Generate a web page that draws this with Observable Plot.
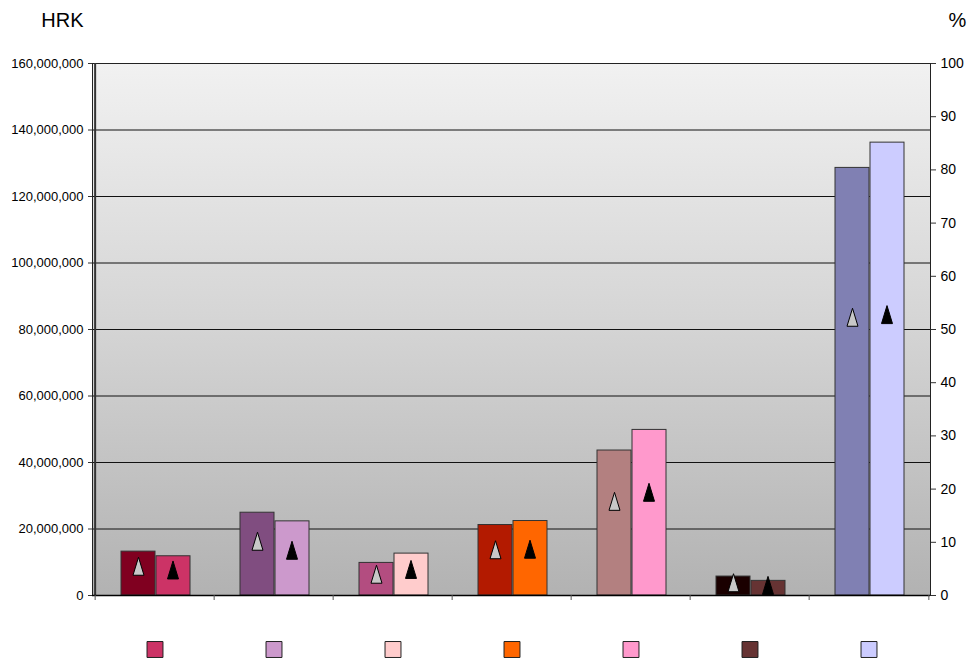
<!DOCTYPE html>
<html>
<head>
<meta charset="utf-8">
<script src="https://cdn.jsdelivr.net/npm/d3@7"></script>
<script src="https://cdn.jsdelivr.net/npm/@observablehq/plot@0.6"></script>
<style>
  html, body { margin: 0; padding: 0; background: #fff; }
  #chart svg { display: block; }
</style>
</head>
<body>
<div id="chart"></div>
<script>
// ---- data ----
const groups = ["G1", "G2", "G3", "G4", "G5", "G6", "G7"];
const hrkA = [13.2e6, 24.9e6, 9.8e6, 21.2e6, 43.6e6, 5.7e6, 128.6e6];
const hrkB = [11.8e6, 22.3e6, 12.6e6, 22.4e6, 49.8e6, 4.4e6, 136.2e6];
const pctA = [5.5, 10.2, 4.0, 8.6, 17.7, 2.4, 52.3];
const pctB = [4.8, 8.5, 4.9, 8.7, 19.4, 1.9, 52.8];
const colorsA = ["#800020", "#804D80", "#B34D80", "#B31A00", "#B38080", "#1A0000", "#8080B3"];
const colorsB = ["#CC3366", "#CC99CC", "#FFCCCC", "#FF6600", "#FF99CC", "#663333", "#CCCCFF"];
const hrkTicks = d3.range(0, 160000001, 20000000);
const pctTicks = d3.range(0, 101, 10);
const hrkMax = 160e6, pctMax = 100;

const rows = groups.map((g, i) => ({
  group: g, a: hrkA[i], b: hrkB[i], pa: pctA[i], pb: pctB[i], ca: colorsA[i], cb: colorsB[i]
}));
const pctToY = p => p * hrkMax / pctMax;

const W = 970, H = 659, mL = 92, mR = 40, mT = 63, mB = 64;
const bw = (W - mL - mR) / groups.length;

// tall triangle marker (Excel-like)
const tallTriangle = {
  draw(context, size) {
    const r = Math.sqrt(size / Math.PI);
    const hw = r * 0.61;
    context.moveTo(0, -r);
    context.lineTo(hw, r);
    context.lineTo(-hw, r);
    context.closePath();
  }
};

const chart = Plot.plot({
  width: W, height: H,
  marginLeft: mL, marginRight: mR, marginTop: mT, marginBottom: mB,
  style: { fontFamily: "'Liberation Sans', Arial, sans-serif", background: "#fff", color: "#000" },
  x: { type: "band", domain: groups, padding: 0, axis: null },
  y: { domain: [0, hrkMax], axis: null },
  color: { type: "identity" },
  marks: [
    Plot.frame({ fill: "url(#bgGrad)" }),
    Plot.ruleY(hrkTicks, { stroke: "#111", strokeWidth: 1 }),
    Plot.barY(rows, { x: "group", y: "a", fill: "ca", stroke: "#333", strokeWidth: 1, insetLeft: 26, insetRight: 59 }),
    Plot.barY(rows, { x: "group", y: "b", fill: "cb", stroke: "#333", strokeWidth: 1, insetLeft: 61, insetRight: 24 }),
    Plot.dot(rows, { x: "group", y: d => pctToY(d.pa), dx: -16.5, symbol: tallTriangle, r: 9, fill: "#C8C8C8", stroke: "#000", strokeWidth: 1 }),
    Plot.dot(rows, { x: "group", y: d => pctToY(d.pb), dx: 18, symbol: tallTriangle, r: 9, fill: "#000", stroke: "#000", strokeWidth: 1 }),
    Plot.frame({ stroke: "#222", strokeWidth: 1 }),
    Plot.ruleX([hrkMax], { x: () => groups[0], y1: 0, y2: hrkMax, dx: -bw / 2, stroke: "#333", strokeWidth: 2 }),
    Plot.ruleY([0], { stroke: "#000", strokeWidth: 1.5 }),
    // boundary ticks under the category axis
    Plot.ruleX(groups, { x: d => d, y1: 0, y2: 0, insetBottom: -5, dx: -bw / 2, stroke: "#555" }),
    Plot.ruleX([groups[groups.length - 1]], { x: d => d, y1: 0, y2: 0, insetBottom: -5, dx: bw / 2, stroke: "#555" }),
    // left axis (HRK)
    Plot.axisY({ ticks: hrkTicks, anchor: "left", tickFormat: d3.format(","), tickSize: 4, tickPadding: 5, fontSize: 13, label: null, stroke: "#333" }),
    // right axis (%)
    Plot.axisY({ ticks: pctTicks.map(pctToY), anchor: "right", tickFormat: d => String(Math.round(d * pctMax / hrkMax)), tickSize: 5, tickPadding: 5, fontSize: 14, label: null, stroke: "#333" }),
    // axis titles
    Plot.text(["HRK"], { frameAnchor: "top-left", dx: -9, dy: -43, textAnchor: "end", lineAnchor: "middle", fontSize: 20 }),
    Plot.text(["%"], { frameAnchor: "top-right", dx: 18, dy: -43, textAnchor: "start", lineAnchor: "middle", fontSize: 20 }),
    // legend squares (second series colours)
    Plot.dot(rows, { x: "group", y: 0, dy: 54, symbol: "square", r: 9, fill: "cb", stroke: "#222", strokeWidth: 1 })
  ]
});

d3.select(chart).insert("defs", ":first-child").html(`
  <linearGradient id="bgGrad" x1="0" y1="0" x2="0" y2="1">
    <stop offset="0" stop-color="#F1F1F1"/>
    <stop offset="0.5" stop-color="#D4D4D4"/>
    <stop offset="1" stop-color="#B2B2B2"/>
  </linearGradient>`);

document.getElementById("chart").appendChild(chart);
</script>
</body>
</html>
